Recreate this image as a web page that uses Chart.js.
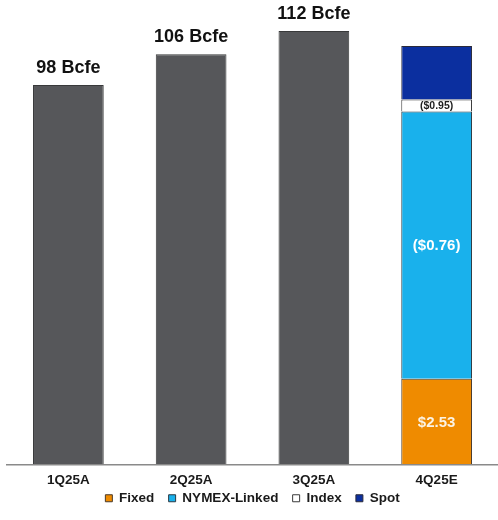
<!DOCTYPE html>
<html>
<head>
<meta charset="utf-8">
<script src="https://cdn.jsdelivr.net/npm/chart.js@4.4.1/dist/chart.umd.min.js"></script>
<style>
  html, body { margin: 0; padding: 0; background: #ffffff; }
  #wrap { width: 498px; height: 520px; position: relative; }
</style>
</head>
<body>
<div id="wrap"><canvas id="c" width="498" height="520"></canvas></div>
<script>
// ---- data ----
const categories = ["1Q25A", "2Q25A", "3Q25A", "4Q25E"];
const production = [98, 106, 112, null];
const productionLabels = ["98 Bcfe", "106 Bcfe", "112 Bcfe", ""];
const fixed = [null, null, null, 22.1];
const nymexLinked = [null, null, null, 69.1];
const indexed = [null, null, null, 3.1];
const spot = [null, null, null, 13.8];
const fixedLabels = ["", "", "", "$2.53"];
const nymexLabels = ["", "", "", "($0.76)"];
const indexLabels = ["", "", "", "($0.95)"];
const spotLabels = ["", "", "", ""];

const FONT = "'Liberation Sans', Arial, sans-serif";

const labelPlugin = {
  id: "segLabels",
  afterDatasetsDraw(chart) {
    const ctx = chart.ctx;
    ctx.save();
    ctx.textAlign = "center";
    chart.data.datasets.forEach((ds, di) => {
      const meta = chart.getDatasetMeta(di);
      if (!ds._labels) return;
      meta.data.forEach((el, i) => {
        const txt = ds._labels[i];
        if (!txt) return;
        const p = el.getProps(["x", "y", "base"], true);
        ctx.font = ds._labelFont;
        ctx.fillStyle = ds._labelColor;
        if (ds._labelPos === "top") {
          ctx.textBaseline = "bottom";
          ctx.fillText(txt, p.x, p.y - 8);
        } else {
          ctx.textBaseline = "middle";
          ctx.fillText(txt, p.x, (p.y + p.base) / 2 + 1);
        }
      });
    });
    ctx.restore();
  }
};

new Chart(document.getElementById("c"), {
  type: "bar",
  data: {
    labels: categories,
    datasets: [
      { label: "Production", data: production, backgroundColor: "#56575a", borderColor: "#38393a", borderWidth: 1,
        _labels: productionLabels, _labelFont: "bold 18px " + FONT, _labelColor: "#111111", _labelPos: "top" },
      { label: "Fixed", data: fixed, backgroundColor: "#ef8b00", borderColor: "#4a3a2a", borderWidth: 1,
        _labels: fixedLabels, _labelFont: "bold 15px " + FONT, _labelColor: "#fbf3e4", _labelPos: "mid" },
      { label: "NYMEX-Linked", data: nymexLinked, backgroundColor: "#19b1ec", borderColor: "#2a3a44", borderWidth: 1,
        _labels: nymexLabels, _labelFont: "bold 15px " + FONT, _labelColor: "#ffffff", _labelPos: "mid" },
      { label: "Index", data: indexed, backgroundColor: "#ffffff", borderColor: "#3a3a3a", borderWidth: 1,
        _labels: indexLabels, _labelFont: "bold 10.5px " + FONT, _labelColor: "#1e1e1e", _labelPos: "mid" },
      { label: "Spot", data: spot, backgroundColor: "#0b2f9f", borderColor: "#2a2a3a", borderWidth: 1,
        _labels: spotLabels, _labelFont: "bold 10px " + FONT, _labelColor: "#ffffff", _labelPos: "mid" }
    ]
  },
  options: {
    responsive: false,
    animation: false,
    layout: { padding: { left: 7, right: 0, top: 0, bottom: 5 } },
    datasets: { bar: { categoryPercentage: 1, barPercentage: 0.576 } },
    scales: {
      x: {
        stacked: true,
        grid: { display: false },
        border: { display: true, color: "#8a8a8a", width: 1.5 },
        ticks: { color: "#1a1a1a", font: { family: FONT, size: 13.5, weight: "bold" }, padding: 0 }
      },
      y: {
        stacked: true,
        display: false,
        min: 0,
        max: 120
      }
    },
    plugins: {
      tooltip: { enabled: false },
      legend: {
        position: "bottom",
        labels: {
          generateLabels: (chart) => {
            const items = Chart.defaults.plugins.legend.labels.generateLabels(chart)
              .filter((item) => item.text !== "Production");
            items.forEach((item, i) => {
              item.lineWidth = 1;
              if (i < items.length - 1) item.text = item.text + "   ";
            });
            return items;
          },
          boxWidth: 7,
          boxHeight: 7,
          padding: 3,
          color: "#1a1a1a",
          font: { family: FONT, size: 13.5, weight: "bold" }
        }
      }
    }
  },
  plugins: [labelPlugin]
});
</script>
</body>
</html>
